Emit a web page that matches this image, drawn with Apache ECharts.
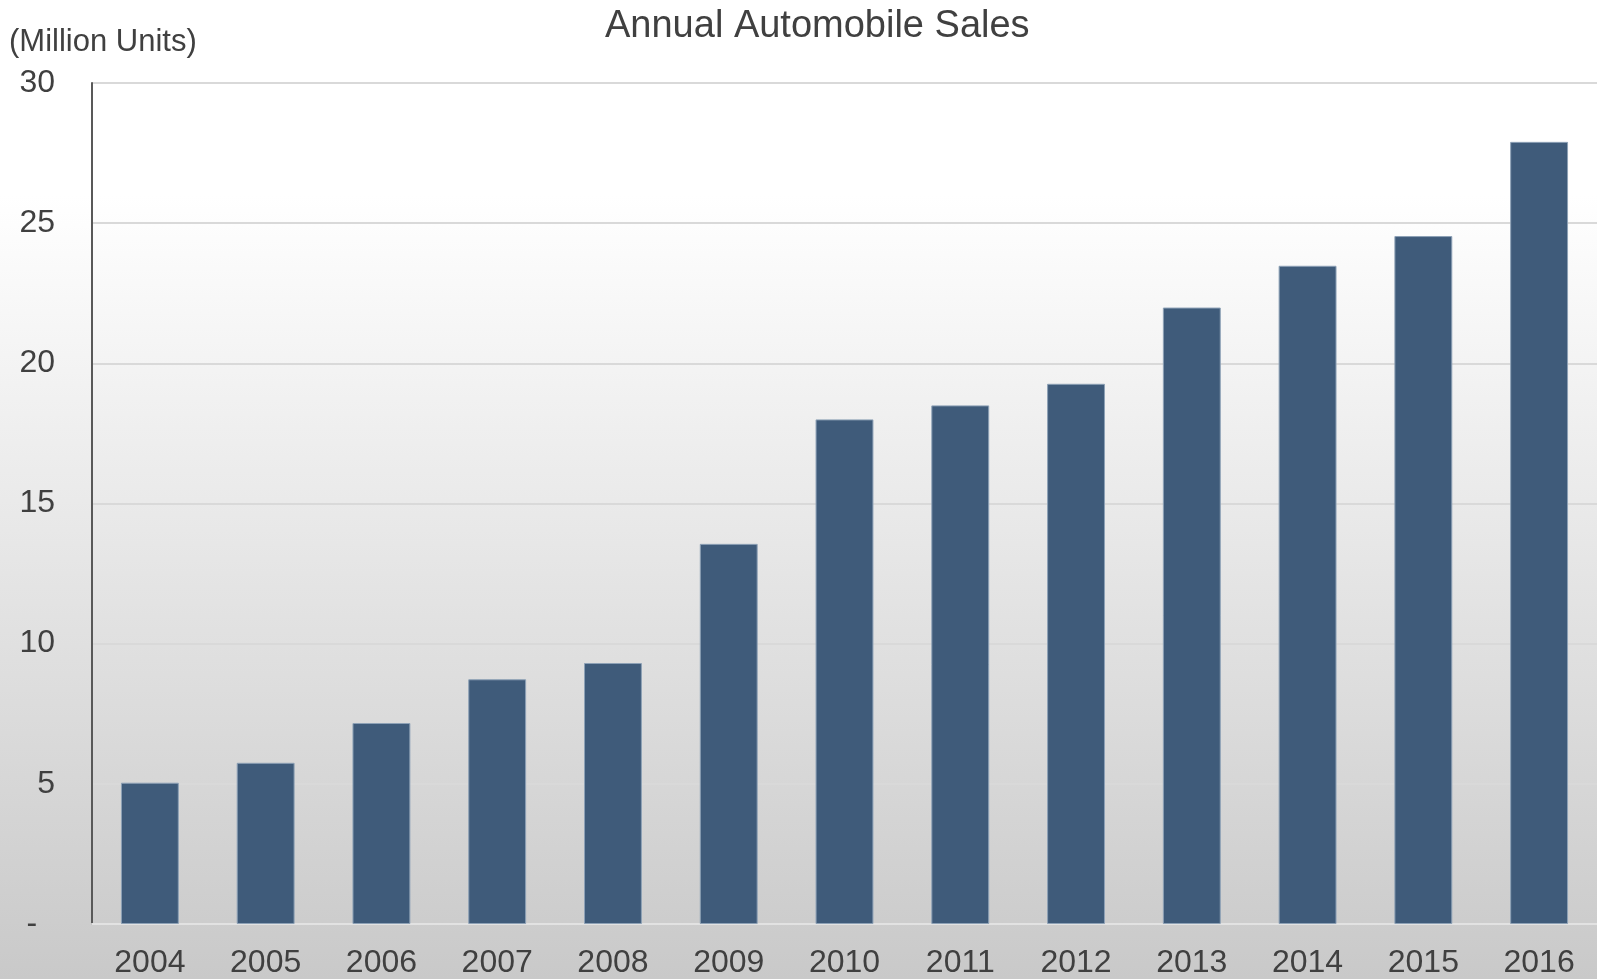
<!DOCTYPE html>
<html>
<head>
<meta charset="utf-8">
<script src="https://cdn.jsdelivr.net/npm/echarts@6/dist/echarts.min.js"></script>
<style>
  html, body { margin: 0; padding: 0; }
  #main { width: 1597px; height: 979px; }
</style>
</head>
<body>
<div id="main"></div>
<script>
// years and sales (million units)
var years = ['2004','2005','2006','2007','2008','2009','2010','2011','2012','2013','2014','2015','2016'];
var sales = [5.04, 5.75, 7.17, 8.73, 9.31, 13.56, 18.0, 18.5, 19.27, 21.99, 23.48, 24.54, 27.9];
var yTicks = [0, 5, 10, 15, 20, 25, 30];

var font = 'Liberation Sans, Arial, sans-serif';

var chart = echarts.init(document.getElementById('main'));
var option = {
    backgroundColor: {
        type: 'linear', x: 0, y: 0, x2: 0, y2: 1,
        colorStops: [
            {offset: 0, color: '#ffffff'},
            {offset: 0.2, color: '#ffffff'},
            {offset: 1, color: '#c9c9c9'}
        ]
    },
    title: [
        {
            text: 'Annual Automobile Sales',
            left: 600,
            top: 3,
            textStyle: {fontFamily: font, fontSize: 38, fontWeight: 'normal', color: '#404040'}
        },
        {
            text: '(Million Units)',
            left: 4,
            top: 22,
            textStyle: {fontFamily: font, fontSize: 31, fontWeight: 'normal', color: '#404040'}
        }
    ],
    grid: {left: 92, right: 0, top: 83, bottom: 55},
    xAxis: {
        type: 'category',
        data: years,
        axisLine: {lineStyle: {color: '#e2e2e2', width: 2}},
        axisTick: {show: false},
        axisLabel: {fontFamily: font, fontSize: 32, color: '#404040', margin: 23}
    },
    yAxis: {
        type: 'value',
        min: yTicks[0],
        max: yTicks[yTicks.length - 1],
        interval: 5,
        axisLine: {show: true, lineStyle: {color: '#595959', width: 2}},
        axisTick: {show: false},
        splitLine: {lineStyle: {color: '#d9d9d9', width: 2}},
        axisLabel: {
            fontFamily: font, fontSize: 32, color: '#404040', margin: 37,
            formatter: function (v) { return v === 0 ? '-  ' : v; }
        }
    },
    series: [{
        type: 'bar',
        data: sales,
        barWidth: '50%',
        itemStyle: {color: '#3f5b7a', borderColor: '#8da1b6', borderWidth: 1}
    }]
};
chart.setOption(option);
</script>
</body>
</html>
